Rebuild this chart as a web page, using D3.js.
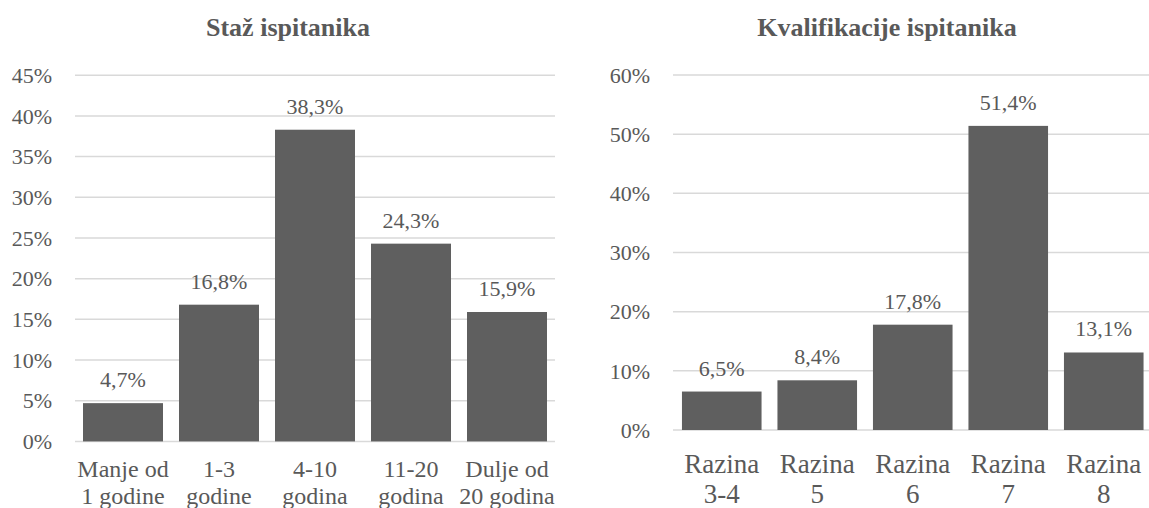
<!DOCTYPE html>
<html>
<head>
<meta charset="utf-8">
<script src="https://cdn.jsdelivr.net/npm/d3@7"></script>
</head>
<body style="margin:0;background:#ffffff">
<svg id="chart" width="1149" height="508" style="display:block"></svg>
<script>
// ---- Data ----
const leftTitle = "Staž ispitanika";
const leftCategories = ["Manje od\n1 godine", "1-3\ngodine", "4-10\ngodina", "11-20\ngodina", "Dulje od\n20 godina"];
const leftValues = [4.7, 16.8, 38.3, 24.3, 15.9];
const leftTicks = [0, 5, 10, 15, 20, 25, 30, 35, 40, 45];

const rightTitle = "Kvalifikacije ispitanika";
const rightCategories = ["Razina\n3-4", "Razina\n5", "Razina\n6", "Razina\n7", "Razina\n8"];
const rightValues = [6.5, 8.4, 17.8, 51.4, 13.1];
const rightTicks = [0, 10, 20, 30, 40, 50, 60];

// ---- Drawing ----
const svg = d3.select("#chart");
const FONT = '"Liberation Serif"';
const textColor = "#595959";
const barColor = "#5f5f5f";
const gridColor = "#d9d9d9";
const fmt = v => v.toFixed(1).replace(".", ",") + "%";

function panel(cfg) {
  const g = svg.append("g");
  const x = d3.scaleBand().domain(cfg.categories).range([cfg.x0, cfg.x1]).paddingInner(1/6).paddingOuter(1/12);
  const y = d3.scaleLinear().domain([0, d3.max(cfg.ticks)]).range([cfg.y0, cfg.yTop]);

  // title
  g.append("text")
    .attr("x", cfg.titleX).attr("y", 36)
    .attr("text-anchor", "middle")
    .style("font-family", FONT)
    .style("font-size", "26px").style("font-weight", "bold")
    .style("fill", textColor)
    .text(cfg.title);

  // gridlines
  g.selectAll("line.grid").data(cfg.ticks).enter().append("line")
    .attr("x1", cfg.gx0).attr("x2", cfg.gx1)
    .attr("y1", d => y(d)).attr("y2", d => y(d))
    .attr("stroke", gridColor).attr("stroke-width", 1.5);

  // y axis labels
  const yAxis = d3.axisLeft(y).tickValues(cfg.ticks).tickFormat(d => d + "%").tickSize(0).tickPadding(0);
  const ya = g.append("g").attr("transform", `translate(${cfg.yLabelX},0)`).call(yAxis);
  ya.select(".domain").remove();
  ya.selectAll("text")
    .style("font-family", FONT).style("font-size", "22px")
    .style("fill", textColor).attr("dy", "0.33em");

  // bars
  g.selectAll("rect.bar").data(cfg.values).enter().append("rect")
    .attr("x", (d, i) => x(cfg.categories[i]))
    .attr("width", x.bandwidth())
    .attr("y", d => y(d))
    .attr("height", d => y(0) - y(d))
    .attr("fill", barColor);

  // data labels
  g.selectAll("text.val").data(cfg.values).enter().append("text")
    .attr("x", (d, i) => x(cfg.categories[i]) + x.bandwidth() / 2)
    .attr("y", d => y(d) - 16)
    .attr("text-anchor", "middle")
    .style("font-family", FONT).style("font-size", "22px").style("fill", textColor)
    .text(d => fmt(d));

  // category labels
  cfg.categories.forEach(c => {
    const cx = x(c) + x.bandwidth() / 2;
    const t = g.append("text")
      .attr("x", cx).attr("y", cfg.catY)
      .attr("text-anchor", "middle")
      .style("font-family", FONT).style("font-size", cfg.catSize + "px").style("fill", textColor);
    c.split("\n").forEach((line, i) => {
      t.append("tspan").attr("x", cx).attr("dy", i === 0 ? 0 : cfg.catLine).text(line);
    });
  });
}

panel({
  title: leftTitle, categories: leftCategories, values: leftValues, ticks: leftTicks,
  x0: 75, x1: 555, gx0: 75, gx1: 555, y0: 441.4, yTop: 75.2, yLabelX: 52,
  titleX: 288, catY: 477, catLine: 27, catSize: 24
});

panel({
  title: rightTitle, categories: rightCategories, values: rightValues, ticks: rightTicks,
  x0: 674, x1: 1151.5, gx0: 673, gx1: 1149, y0: 430, yTop: 75, yLabelX: 650,
  titleX: 887, catY: 473, catLine: 30, catSize: 27
});
</script>
</body>
</html>
